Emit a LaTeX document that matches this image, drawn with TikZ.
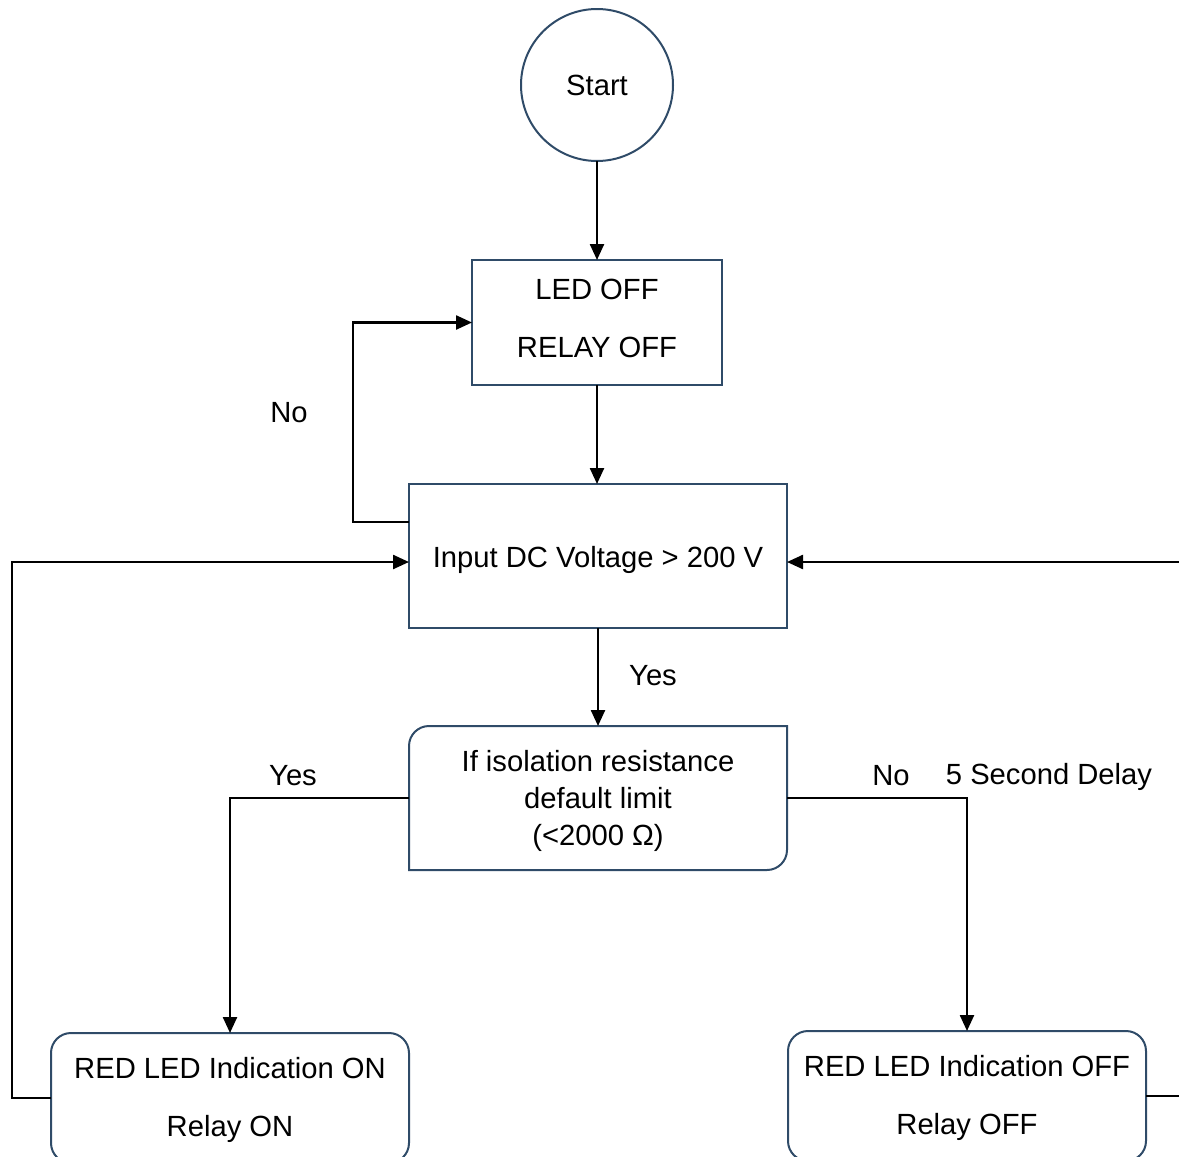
\documentclass[tikz,border=0pt]{standalone}
\usepackage{fontspec}
\setmainfont{Liberation Sans}
\usetikzlibrary{arrows.meta}
\definecolor{boxblue}{RGB}{47,75,104}

\begin{document}
\begin{tikzpicture}[x=0.5pt, y=0.5pt,
    every node/.style={font=\fontsize{14.6pt}{18.5pt}\selectfont},
    box/.style={draw=boxblue, line width=1pt, rectangle, inner sep=0pt, outer sep=0pt, align=center},
    flow/.style={-{Triangle[length=8pt,width=7pt]}, line width=1.2pt}]
    \useasboundingbox (0,0) rectangle (1179,-1157);
    \clip (0,0) rectangle (1179,-1157);

    % Start
    \node[box, circle, minimum size=76pt] (start) at (597,-85) {Start};

    % Blocks
    \node[box, minimum width=125pt, minimum height=62.5pt] (init) at (597,-322.5) {LED OFF\\[10.5pt] RELAY OFF\rule[-4pt]{0pt}{1pt}};
    \node[box, minimum width=189pt, minimum height=72pt] (vin) at (598,-556) {\rule{0pt}{15pt}Input DC Voltage > 200 V};
    \node[box, draw=none, minimum width=189pt, minimum height=72pt] (check) at (598,-798) {\rule{0pt}{14pt}If isolation resistance\\ default limit\\ (<2000 Ω)};
    \draw[boxblue, line width=1pt] (check.north east) -- ([xshift=10pt]check.north west)
        arc[start angle=90, end angle=180, radius=10pt] -- (check.south west)
        -- ([xshift=-10pt]check.south east) arc[start angle=270, end angle=360, radius=10pt] -- cycle;
    \node[box, rounded corners=10pt, minimum width=179pt, minimum height=65pt] (ledon) at (230,-1098) {\rule{0pt}{13pt}RED LED Indication ON\\[10.5pt] Relay ON};
    \node[box, rounded corners=10pt, minimum width=179pt, minimum height=65pt] (ledoff) at (967,-1096) {\rule{0pt}{13pt}RED LED Indication OFF\\[10.5pt] Relay OFF};

    % Connectors
    \draw[flow] (start) -- (init);
    \draw[flow] (init) -- (init |- vin.north);
    \draw[flow] ([yshift=17pt]vin.west) -- ++(-28pt,0) |- (init.west);
    \draw[flow] (vin) -- (check);
    \draw[flow] (check.west) -| (ledon.north);
    \draw[flow] (check.east) -| (ledoff.north);
    \draw[flow] (ledon.west) -- ++(-19.5pt,0) |- ([yshift=-3pt]vin.west);
    \draw[flow] (ledoff.east) -- ++(20pt,0) |- ([yshift=-3pt]vin.east);

    % Labels
    \node (noloop) at (289,-413) {No};
    \node (yesvin) at (653,-676) {Yes};
    \node (yesleft) at (293,-776) {Yes};
    \node (noright) at (891,-776) {No};
    \node (delay) at (1049,-777) {5 Second Delay};
\end{tikzpicture}
\end{document}
